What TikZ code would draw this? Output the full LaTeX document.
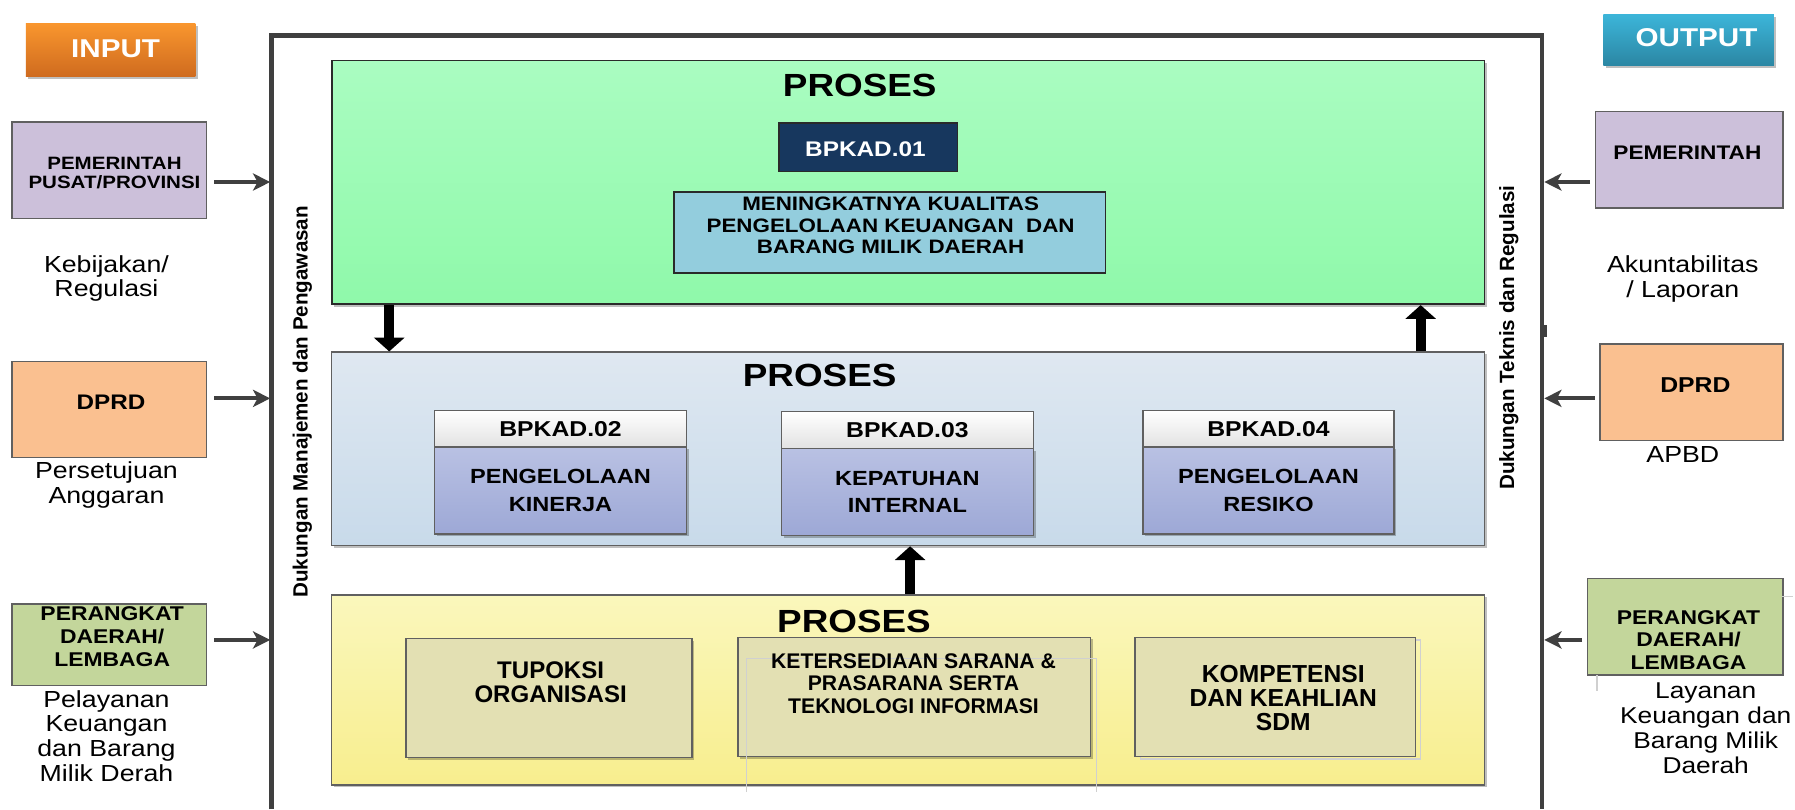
\documentclass[tikz,border=0pt]{standalone}
\usepackage{fontspec}
\setmainfont{Liberation Sans}[FakeStretch=1.15]
\newfontfamily\plainfont{Liberation Sans}
\usetikzlibrary{arrows.meta,shadows}
\newcommand\myfs[2]{\fontsize{#1}{#2}\selectfont}
\definecolor{frameC}{HTML}{3F3F3F}
\definecolor{inTop}{HTML}{F9962E}
\definecolor{inBot}{HTML}{CF6B1F}
\definecolor{outTop}{HTML}{3CB5D9}
\definecolor{outBot}{HTML}{2B86A3}
\definecolor{grTop}{HTML}{AAFCC1}
\definecolor{grBot}{HTML}{8FF9AA}
\definecolor{navy}{HTML}{17375E}
\definecolor{mk}{HTML}{93CDDD}
\definecolor{blTop}{HTML}{DFE8F1}
\definecolor{blBot}{HTML}{C8DAEA}
\definecolor{hdTop}{HTML}{FFFFFF}
\definecolor{hdBot}{HTML}{E2E2E2}
\definecolor{bdTop}{HTML}{B9C1E3}
\definecolor{bdBot}{HTML}{9DA8D6}
\definecolor{ylTop}{HTML}{FAF7BC}
\definecolor{ylBot}{HTML}{F8EE8E}
\definecolor{beige}{HTML}{E3E0B3}
\definecolor{lav}{HTML}{CCC0DA}
\definecolor{peach}{HTML}{FAC090}
\definecolor{olive}{HTML}{C3D69B}
\definecolor{arrC}{HTML}{404040}
\definecolor{faint}{HTML}{D0D0D0}
\definecolor{boxline}{HTML}{606060}
\definecolor{darkline}{HTML}{2A2A2A}
\tikzset{
  bx/.style={draw=boxline, line width=1.2pt, inner sep=0pt, anchor=north west},
  shd/.style={drop shadow={shadow xshift=2pt, shadow yshift=-2pt, opacity=0.25, fill=black}},
  tx/.style={inner sep=0pt, align=center, text=black},
  garr/.style={draw=arrC, line width=3.5pt, -{Stealth[length=15pt,width=15pt,inset=4pt]}},
  barr/.style={draw=black, line width=9pt, -{Triangle[length=12pt,width=26pt]}},
  frameline/.style={draw=frameC, line width=4pt},
  faintline/.style={draw=faint, line width=1pt},
}
\begin{document}
\begin{tikzpicture}[x=1pt,y=-1pt]
\useasboundingbox[fill=white] (0,0) rectangle (1568,707);

% outer frame
\coordinate (fBL) at (237,707);
\coordinate (fTL) at (237,31);
\coordinate (fTR) at (1347,31);
\coordinate (fBR) at (1347,707);
\draw[frameline] (fBL) -- (fTL) -- (fTR) -- (fBR);
\fill[frameC] (1347,284) rectangle (1351,294);

% INPUT / OUTPUT
\node[bx, draw=none, top color=inTop, bottom color=inBot, shd, minimum width=148pt, minimum height=46pt] (inBox) at (22,20) {};
\node[tx, text=white, font=\myfs{22.5}{26}\bfseries] (inTxt) at (101,43) {INPUT};
\node[bx, draw=none, top color=outTop, bottom color=outBot, shd, minimum width=149pt, minimum height=45pt] (outBox) at (1400,12) {};
\node[tx, text=white, font=\myfs{22.5}{26}\bfseries] (outTxt) at (1482,33) {OUTPUT};

% green process
\node[bx, draw=darkline, line width=1.5pt, top color=grTop, bottom color=grBot, shd, minimum width=1007pt, minimum height=213pt] (green) at (289,52) {};
\node[tx, font=\myfs{28}{34}\bfseries] (p1) at (751,75) {PROSES};
\node[bx, draw=darkline, fill=navy, minimum width=156pt, minimum height=42pt] (b01) at (680,107) {};
\node[tx, text=white, font=\myfs{18.5}{22}\bfseries] (b01t) at (756,130) {BPKAD.01};
\node[bx, draw=darkline, fill=mk, minimum width=377pt, minimum height=71pt] (mkb) at (588,167) {};
\node[tx, font=\myfs{17}{19}\bfseries] (mkt) at (778,197) {MENINGKATNYA KUALITAS\\PENGELOLAAN KEUANGAN\ \ DAN\\BARANG MILIK DAERAH};

% blue process
\node[bx, top color=blTop, bottom color=blBot, shd, minimum width=1007pt, minimum height=169pt] (blue) at (289,307) {};
\node[tx, font=\myfs{28}{34}\bfseries] (p2) at (716,328) {PROSES};

\node[bx, top color=bdTop, bottom color=bdBot, shd, minimum width=220pt, minimum height=76pt] (bd2) at (379,390) {};
\node[bx, top color=hdTop, bottom color=hdBot, minimum width=220pt, minimum height=32pt] (hd2) at (379,358) {};
\node[tx, font=\myfs{18.8}{22}\bfseries] (hd2t) at (hd2.center) {BPKAD.02};
\node[tx, font=\myfs{17.9}{24}\bfseries] (bd2t) at (bd2.center) {PENGELOLAAN\\KINERJA};

\node[bx, top color=bdTop, bottom color=bdBot, shd, minimum width=220pt, minimum height=76pt] (bd3) at (682,391) {};
\node[bx, top color=hdTop, bottom color=hdBot, minimum width=220pt, minimum height=32pt] (hd3) at (682,359) {};
\node[tx, font=\myfs{18.8}{22}\bfseries] (hd3t) at (hd3.center) {BPKAD.03};
\node[tx, font=\myfs{17.9}{24}\bfseries] (bd3t) at (bd3.center) {KEPATUHAN\\INTERNAL};

\node[bx, top color=bdTop, bottom color=bdBot, shd, minimum width=219pt, minimum height=76pt] (bd4) at (998,390) {};
\node[bx, top color=hdTop, bottom color=hdBot, minimum width=219pt, minimum height=32pt] (hd4) at (998,358) {};
\node[tx, font=\myfs{18.8}{22}\bfseries] (hd4t) at (hd4.center) {BPKAD.04};
\node[tx, font=\myfs{17.9}{24}\bfseries] (bd4t) at (bd4.center) {PENGELOLAAN\\RESIKO};

% yellow process
\node[bx, top color=ylTop, bottom color=ylBot, shd, minimum width=1007pt, minimum height=166pt] (yellow) at (289,519) {};
\node[tx, font=\myfs{28}{34}\bfseries] (p3) at (746,543) {PROSES};

\node[bx, fill=beige, shd, minimum width=250pt, minimum height=104pt] (tup) at (354,557) {};
\node[tx, font=\plainfont\myfs{21}{20.5}\bfseries] (tupt) at (481,596) {TUPOKSI\\ORGANISASI};

\node[bx, fill=beige, shd, minimum width=308pt, minimum height=104pt] (ket) at (644,556) {};
\draw[faintline] (652,692) -- (652,575) -- (958,575) -- (958,692);
\node[tx, font=\plainfont\myfs{18.5}{19.5}\bfseries] (kett) at (798,597) {KETERSEDIAAN SARANA \&\\PRASARANA SERTA\\TEKNOLOGI INFORMASI};

\draw[faintline] (996,559) rectangle (1241,663);
\node[bx, fill=beige, minimum width=245pt, minimum height=104pt] (kom) at (991,556) {};
\node[tx, font=\plainfont\myfs{21.5}{21}\bfseries] (komt) at (1121,610) {KOMPETENSI\\DAN KEAHLIAN\\SDM};

% big arrows between processes
\coordinate (xA) at (340,0);
\coordinate (xB) at (1241,0);
\coordinate (xC) at (795,0);
\draw[barr] (green.south -| xA) -- (blue.north -| xA);
\draw[barr] (blue.north -| xB) -- (green.south -| xB);
\draw[barr] (yellow.north -| xC) -- (blue.south -| xC);

% vertical labels
\node[tx, rotate=90, font=\plainfont\myfs{18}{22}\bfseries] (vL) at (264,351) {Dukungan Manajemen dan Pengawasan};
\node[tx, rotate=90, font=\plainfont\myfs{18}{22}\bfseries] (vR) at (1318,295) {Dukungan Teknis dan Regulasi};

% left inputs
\node[bx, fill=lav, minimum width=170pt, minimum height=84pt] (pemL) at (10,106) {};
\node[tx, font=\myfs{15.6}{17}\bfseries] (pemLt) at (100,151) {PEMERINTAH\\PUSAT/PROVINSI};
\coordinate (aL1) at (236,159);
\draw[garr, shorten <=6pt] (pemL.east |- aL1) -- (aL1);
\node[tx, font=\myfs{20.3}{21}] (kebT) at (93,243) {Kebijakan/\\Regulasi};

\node[bx, fill=peach, minimum width=170pt, minimum height=84pt] (dprdL) at (10,315) {};
\node[tx, font=\myfs{18.4}{22}\bfseries] (dprdLt) at (97,351) {DPRD};
\coordinate (aL2) at (236,348);
\draw[garr, shorten <=6pt] (dprdL.east |- aL2) -- (aL2);
\node[tx, font=\myfs{20.3}{22}] (perT) at (93,424) {Persetujuan\\Anggaran};

\node[bx, fill=olive, minimum width=170pt, minimum height=71pt] (pdL) at (10,527) {};
\node[tx, font=\myfs{17.4}{20}\bfseries] (pdLt) at (98,556) {PERANGKAT\\DAERAH/\\LEMBAGA};
\coordinate (aL3) at (236,559);
\draw[garr, shorten <=6pt] (pdL.east |- aL3) -- (aL3);
\node[tx, font=\myfs{20.3}{21.7}] (pelT) at (93,643) {Pelayanan\\Keuangan\\dan Barang\\Milik Derah};

% right outputs
\node[bx, fill=lav, minimum width=164pt, minimum height=84pt] (pemR) at (1393,97) {};
\node[tx, font=\myfs{17.2}{22}\bfseries] (pemRt) at (1474,133) {PEMERINTAH};
\coordinate (aR1) at (1349,159);
\draw[garr, shorten <=4pt] (pemR.west |- aR1) -- (aR1);
\node[tx, font=\myfs{20.3}{22}] (akT) at (1470,244) {Akuntabilitas\\/ Laporan};

\node[bx, fill=peach, minimum width=160pt, minimum height=84pt] (dprdR) at (1397,300) {};
\node[tx, font=\myfs{18.8}{22}\bfseries] (dprdRt) at (1481,336) {DPRD};
\coordinate (aR2) at (1349,348);
\draw[garr, shorten <=4pt] (dprdR.west |- aR2) -- (aR2);
\node[tx, font=\myfs{20.3}{22}] (apbdT) at (1470,397) {APBD};

\node[bx, fill=olive, minimum width=171pt, minimum height=84pt] (pdR) at (1386,505) {};
\node[tx, font=\myfs{17.4}{19.5}\bfseries] (pdRt) at (1475,559) {PERANGKAT\\DAERAH/\\LEMBAGA};
\coordinate (aR3) at (1349,559);
\draw[garr, shorten <=4pt] (pdR.west |- aR3) -- (aR3);
\node[tx, font=\myfs{20}{22}] (layT) at (1490,636) {Layanan\\Keuangan dan\\Barang Milik\\Daerah};
\draw[faintline] (1557,521) -- (1566,521);
\draw[faintline] (1395,590) -- (1395,604);
\end{tikzpicture}
\end{document}
